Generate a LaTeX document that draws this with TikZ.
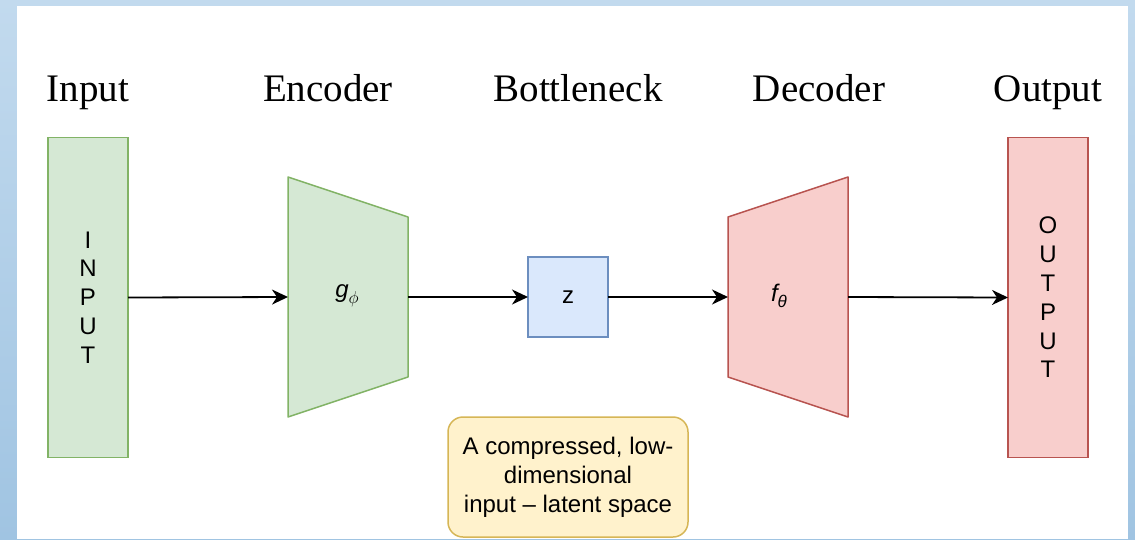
\documentclass[tikz,border=0pt]{standalone}
\usepackage{fontspec}
\setmainfont{Liberation Serif}
\setsansfont{Liberation Sans}
\usetikzlibrary{arrows.meta}

\definecolor{frameTop}{RGB}{194,218,238}
\definecolor{frameBot}{RGB}{160,196,226}
\definecolor{grnFill}{HTML}{D5E8D4}
\definecolor{grnLine}{HTML}{82B366}
\definecolor{bluFill}{HTML}{DAE8FC}
\definecolor{bluLine}{HTML}{6C8EBF}
\definecolor{redFill}{HTML}{F8CECC}
\definecolor{redLine}{HTML}{B85450}
\definecolor{ylwFill}{HTML}{FFF2CC}
\definecolor{ylwLine}{HTML}{D6B656}

\newcommand{\lowsub}[1]{\raisebox{-6pt}{\fontsize{17}{17}\selectfont\itshape #1}}

\tikzset{
  heading/.style={anchor=base, inner sep=0pt, font=\fontsize{39}{40}\selectfont},
  boxtext/.style={font=\sffamily\fontsize{24}{28.8}\selectfont, align=center},
  block/.style={draw, line width=1.5pt, inner sep=0pt, outer sep=0pt, boxtext},
  greenbox/.style={block, draw=grnLine, fill=grnFill},
  bluebox/.style={block, draw=bluLine, fill=bluFill},
  redbox/.style={block, draw=redLine, fill=redFill},
  notebox/.style={block, draw=ylwLine, fill=ylwFill, rounded corners=15pt},
  frame/.style={inner sep=0pt, outer sep=0pt, minimum width=120pt, minimum height=240pt},
  flow/.style={line width=1.8pt, -{Stealth[length=16pt, width=15pt, inset=5pt]}},
}

\begin{document}
\begin{tikzpicture}[x=1pt, y=-1pt]
\useasboundingbox (0,0) rectangle (1135,539);

% page frame
\shade[top color=frameTop, bottom color=frameBot] (0,0) rectangle (1135,539);
\fill[white] (17,6) rectangle (1128,539);

% column headings
\node[heading] (hin)  at (88,101.5)   {Input};
\node[heading] (henc) at (328,101.5)  {Encoder};
\node[heading] (hbot) at (578,101.5)  {Bottleneck};
\node[heading] (hdec) at (819,101.5)  {Decoder};
\node[heading] (hout) at (1048,101.5) {Output};

% input and output stacks
\node[greenbox, minimum width=80pt, minimum height=320pt] (in) at (88,297.5)
  {I\\N\\P\\U\\T};
\node[redbox, minimum width=80pt, minimum height=320pt] (out) at (1048,297.5)
  {O\\U\\T\\P\\U\\T};

% encoder and decoder frames (trapezoids drawn over them)
\node[frame] (enc) at (348,297) {};
\node[frame] (dec) at (788,297) {};
\filldraw[line width=1.5pt, draw=grnLine, fill=grnFill, line join=round]
  (enc.north west) -- ([yshift=-40pt]enc.north east) --
  ([yshift=40pt]enc.south east) -- (enc.south west) -- cycle;
\filldraw[line width=1.5pt, draw=redLine, fill=redFill, line join=round]
  ([yshift=-40pt]dec.north west) -- (dec.north east) --
  (dec.south east) -- ([yshift=40pt]dec.south west) -- cycle;
\node[boxtext] (glab) at (347,296) {\itshape g\lowsub{$\phi$}};
\node[boxtext] (flab) at (779,296) {\itshape f\lowsub{θ}};

% bottleneck
\node[bluebox, minimum width=80pt, minimum height=80pt] (z) at (568,297) {z};

% annotation
\node[notebox, minimum width=240pt, minimum height=120pt] (note) at (568,477)
  {A compressed, low-\\dimensional\\input \textendash{} latent space};

% data flow
\draw[flow] (in.east) -- (enc.west);
\draw[flow] (enc.east) -- (z.west);
\draw[flow] (z.east) -- (dec.west);
\draw[flow] (dec.east) -- (out.west);
\end{tikzpicture}
\end{document}
